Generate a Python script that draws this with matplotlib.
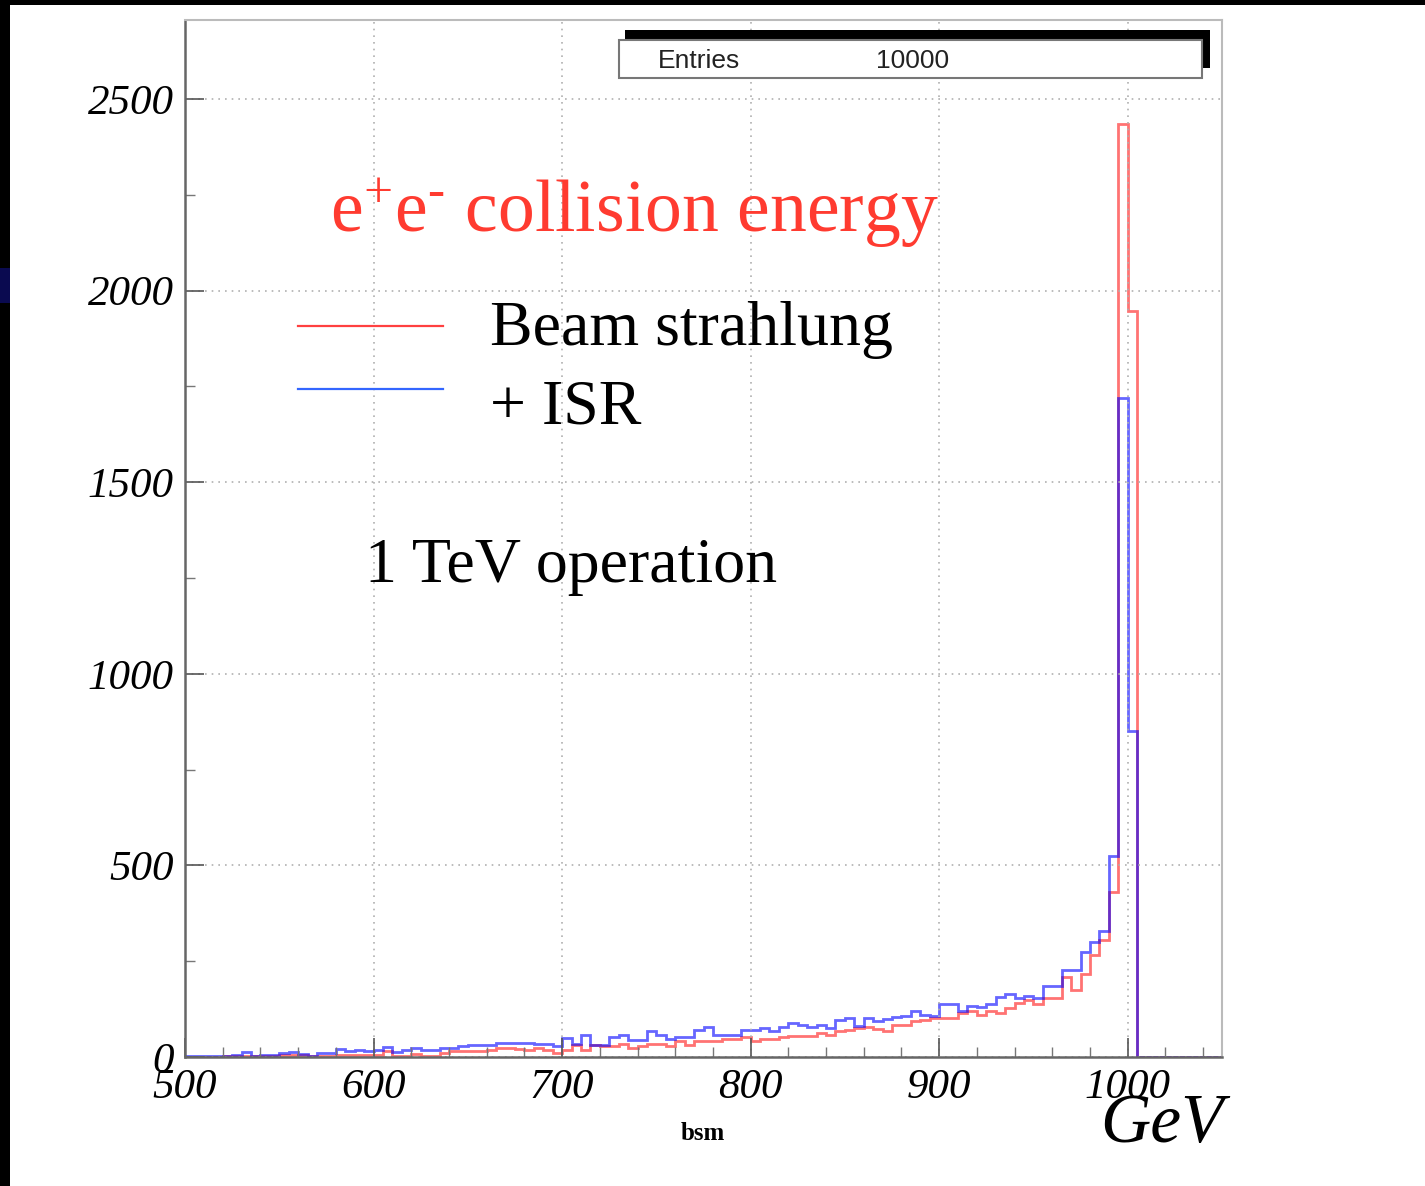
import matplotlib
matplotlib.use("Agg")
import matplotlib.pyplot as plt
import numpy as np
from matplotlib.patches import Rectangle
from matplotlib.lines import Line2D

plt.rcParams['mathtext.fontset'] = 'custom'
plt.rcParams['mathtext.rm'] = 'Liberation Serif'
plt.rcParams['mathtext.it'] = 'Liberation Serif:italic'

# 5 GeV bins from 500 to 1050 GeV
bin_lo, bin_hi, bin_w = 500, 1050, 5

# beamstrahlung only (red), bins starting at 500, 505, ...
beam = [1, 1, 1, 1, 2, 2, 3, 2, 2, 2,
        6, 6, 6, 2, 3, 3, 6, 6, 6, 6,
        6, 15, 3, 3, 9, 3, 3, 10, 15, 15,
        15, 15, 19, 23, 23, 21, 19, 23, 19, 10,
        19, 32, 19, 32, 28, 28, 34, 23, 28, 34,
        34, 28, 41, 32, 41, 41, 43, 47, 47, 52,
        41, 47, 47, 52, 54, 54, 54, 63, 58, 67,
        71, 76, 78, 73, 67, 84, 84, 93, 97, 102,
        102, 102, 115, 119, 110, 119, 115, 129, 142, 149,
        137, 154, 154, 209, 176, 216, 265, 306, 431, 2435,
        1947, 0, 0, 0, 0, 0, 0, 0, 0, 0]

# beamstrahlung + ISR (blue)
beam_isr = [3, 3, 3, 3, 3, 6, 12, 3, 6, 6,
            10, 12, 9, 2, 10, 10, 21, 15, 19, 15,
            19, 25, 12, 17, 23, 19, 19, 23, 23, 30,
            32, 32, 32, 37, 37, 37, 37, 35, 34, 28,
            50, 34, 58, 32, 32, 52, 58, 45, 45, 67,
            58, 47, 52, 52, 71, 78, 58, 58, 58, 71,
            70, 76, 67, 77, 90, 84, 77, 84, 76, 97,
            102, 82, 102, 93, 99, 104, 108, 121, 110, 108,
            138, 138, 119, 132, 130, 138, 156, 165, 154, 158,
            154, 185, 185, 226, 226, 274, 300, 330, 524, 1720,
            851, 0, 0, 0, 0, 0, 0, 0, 0, 0]

x_major = [500, 600, 700, 800, 900, 1000]
y_major = [0, 500, 1000, 1500, 2000, 2500]
entries = 10000

W, H = 1425, 1186
fig = plt.figure(figsize=(W / 100, H / 100), dpi=100)
fig.patch.set_facecolor('white')


def fx(px):
    return px / W


def fy(py):
    return 1 - py / H


ax = fig.add_axes([fx(185), fy(1057), fx(1222) - fx(185), fy(20) - fy(1057)])

edges = np.arange(bin_lo, bin_hi + bin_w, bin_w)
ax.stairs(beam, edges, color='#ff0000', alpha=0.55, lw=2.0)
ax.stairs(beam_isr, edges, color='#0000ff', alpha=0.6, lw=2.0)

ax.set_xlim(bin_lo, bin_hi)
ax.set_ylim(0, 2706)

ax.set_xticks(x_major)
ax.set_xticklabels([str(v) for v in x_major], fontsize=31, fontstyle='italic',
                   family='Liberation Serif')
ax.set_xticks(np.arange(500, 1050, 20), minor=True)
ax.set_yticks(y_major)
ax.set_yticklabels([str(v) for v in y_major], fontsize=31, fontstyle='italic',
                   family='Liberation Serif')
ax.set_yticks(np.arange(0, 2700, 250), minor=True)
ax.tick_params(which='major', direction='in', length=14, width=1.2, color='#555555', pad=8)
ax.tick_params(which='minor', direction='in', length=7, width=1.0, color='#777777')
ax.tick_params(axis='x', which='major', pad=8)

ax.grid(True, which='major', color='#b0b0b0', linestyle=(0, (1, 3)), lw=1.2)
for s in ['left', 'bottom']:
    ax.spines[s].set_color('#666666')
    ax.spines[s].set_linewidth(1.8)
for s in ['top', 'right']:
    ax.spines[s].set_color('#bbbbbb')
    ax.spines[s].set_linewidth(1.5)

# stats box with shadow
fig.add_artist(Rectangle((fx(625), fy(68)), fx(1210) - fx(625), fy(30) - fy(68),
                         transform=fig.transFigure, facecolor='black', edgecolor='none'))
fig.add_artist(Rectangle((fx(619), fy(78)), fx(1202) - fx(619), fy(40) - fy(78),
                         transform=fig.transFigure, facecolor='white', edgecolor='#777777', lw=1.5))
fig.text(fx(658), fy(61), 'Entries', fontsize=19, family='Liberation Sans',
         color='#222222', va='center', ha='left')
fig.text(fx(876), fy(61), str(entries), fontsize=19, family='Liberation Sans',
         color='#222222', va='center', ha='left')

# annotations
fig.text(fx(330), fy(232), r'e$^{\text{+}}$e$^{\text{-}}$ collision energy', fontsize=53,
         family='Liberation Serif', color='#ff3b30', va='baseline', ha='left')
fig.add_artist(Line2D([fx(298), fx(443)], [fy(326), fy(326)], color='#ff4040', lw=1.6,
                      transform=fig.transFigure))
fig.add_artist(Line2D([fx(298), fx(443)], [fy(389), fy(389)], color='#3366ff', lw=1.6,
                      transform=fig.transFigure))
fig.text(fx(490), fy(345), 'Beam strahlung', fontsize=46, family='Liberation Serif',
         color='black', va='baseline', ha='left')
fig.text(fx(490), fy(423), '+ ISR', fontsize=46, family='Liberation Serif',
         color='black', va='baseline', ha='left')
fig.text(fx(365), fy(582), '1 TeV operation', fontsize=46, family='Liberation Serif',
         color='black', va='baseline', ha='left')

fig.text(fx(703), fy(1140), 'bsm', fontsize=18, family='Liberation Serif',
         fontweight='bold', color='black', va='baseline', ha='center')
fig.text(fx(1100), fy(1142), 'GeV', fontsize=50, family='Liberation Serif',
         fontstyle='italic', color='black', va='baseline', ha='left')

# slide borders
fig.add_artist(Rectangle((0, 0), fx(10), 1, transform=fig.transFigure,
                         facecolor='black', edgecolor='none'))
fig.add_artist(Rectangle((0, fy(5)), 1, fy(0) - fy(5), transform=fig.transFigure,
                         facecolor='black', edgecolor='none'))
fig.add_artist(Rectangle((0, fy(303)), fx(10), fy(268) - fy(303), transform=fig.transFigure,
                         facecolor='#0a0a50', edgecolor='none'))

fig.savefig('out.png', dpi=100)
